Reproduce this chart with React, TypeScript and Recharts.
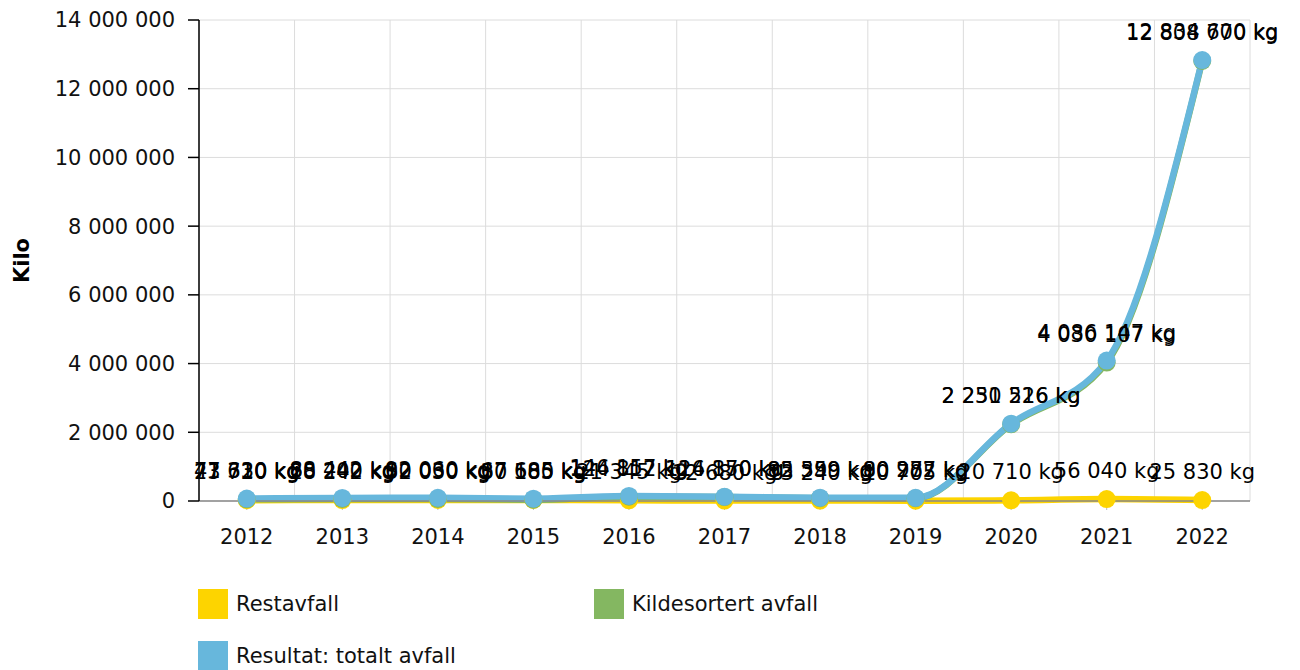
import React from 'react';
import { LineChart, Line, XAxis, YAxis, CartesianGrid, LabelList } from 'recharts';

const years = ['2012', '2013', '2014', '2015', '2016', '2017', '2018', '2019', '2020', '2021', '2022'];
const restavfall = [23720, 28242, 32030, 30100, 21345, 12680, 13240, 10705, 20710, 56040, 25830];
const kildesortert = [47610, 60200, 60030, 37585, 124812, 114170, 82359, 80277, 2230516, 4030107, 12808770];
const totalt = [71330, 88442, 92060, 67685, 146157, 126850, 95599, 90982, 2251226, 4086147, 12834600];
const yTicks = [0, 2000000, 4000000, 6000000, 8000000, 10000000, 12000000, 14000000];

const seriesNames = {
  rest: 'Restavfall',
  kilde: 'Kildesortert avfall',
  total: 'Resultat: totalt avfall',
};
const colors = { rest: '#fdd400', kilde: '#84b761', total: '#67b7dc' };

const data = years.map((y, i) => ({
  year: y,
  rest: restavfall[i],
  kilde: kildesortert[i],
  total: totalt[i],
}));

const FONT = '"DejaVu Sans", Verdana, sans-serif';
const fmt = (v: number) => String(Math.round(v)).replace(/\B(?=(\d{3})+(?!\d))/g, ' ');
const fmtKg = (v: any) => `${fmt(Number(v))} kg`;

const legendItems = [
  { key: 'rest', left: 198, top: 589 },
  { key: 'kilde', left: 594, top: 589 },
  { key: 'total', left: 198, top: 641 },
] as const;

export default function App() {
  return (
    <div style={{ position: 'absolute', left: 0, top: 0, width: 1300, height: 670, fontFamily: FONT, background: '#fff' }}>
      <LineChart
        width={1300}
        height={670}
        data={data}
        margin={{ top: 20, right: 50, left: 0, bottom: 109 }}
        style={{ fontFamily: FONT }}
      >
        <CartesianGrid
          stroke="#dcdcdc"
          strokeWidth={1}
          verticalCoordinatesGenerator={(p: any) => {
            const off = p.offset;
            const n = years.length;
            const arr: number[] = [];
            for (let i = 0; i <= n; i++) arr.push(off.left + (i * off.width) / n);
            return arr;
          }}
        />
        <XAxis
          dataKey="year"
          scale="band"
          stroke="#888"
          tickSize={9}
          tickMargin={19}
          height={60}
          tick={{ fill: '#111', fontSize: 21, fontFamily: FONT }}
          tickLine={{ stroke: '#bbb' }}
          axisLine={{ stroke: '#888', strokeWidth: 1.5 }}
        />
        <YAxis
          width={199}
          domain={[0, 14000000]}
          ticks={yTicks}
          tickFormatter={fmt}
          tickSize={11}
          tickMargin={13}
          tick={{ fill: '#111', fontSize: 21, fontFamily: FONT }}
          axisLine={{ stroke: '#000', strokeWidth: 1.5 }}
          tickLine={{ stroke: '#000', strokeWidth: 1.5 }}
          label={{
            content: (props: any) => {
              const vb = props.viewBox || { y: 20, height: 481 };
              const cy = vb.y + vb.height / 2;
              return (
                <text
                  x={22}
                  y={cy}
                  transform={`rotate(-90 22 ${cy})`}
                  textAnchor="middle"
                  dominantBaseline="central"
                  fontSize={21}
                  fontWeight="bold"
                  fontFamily={FONT}
                  fill="#000"
                >
                  Kilo
                </text>
              );
            },
          }}
        />
        <Line
          dataKey="rest"
          name={seriesNames.rest}
          type="monotone"
          stroke={colors.rest}
          strokeWidth={6.5}
          dot={{ r: 9, fill: colors.rest, stroke: 'none' }}
          activeDot={false}
          isAnimationActive={false}
        >
          <LabelList dataKey="rest" position="top" offset={21} formatter={fmtKg} fill="#000" fontSize={21} fontFamily={FONT} />
        </Line>
        <Line
          dataKey="kilde"
          name={seriesNames.kilde}
          type="monotone"
          stroke={colors.kilde}
          strokeWidth={6.5}
          dot={{ r: 9, fill: colors.kilde, stroke: 'none' }}
          activeDot={false}
          isAnimationActive={false}
        >
          <LabelList dataKey="kilde" position="top" offset={21} formatter={fmtKg} fill="#000" fontSize={21} fontFamily={FONT} />
        </Line>
        <Line
          dataKey="total"
          name={seriesNames.total}
          type="monotone"
          stroke={colors.total}
          strokeWidth={6.5}
          dot={{ r: 9, fill: colors.total, stroke: 'none' }}
          activeDot={false}
          isAnimationActive={false}
        >
          <LabelList dataKey="total" position="top" offset={21} formatter={fmtKg} fill="#000" fontSize={21} fontFamily={FONT} />
        </Line>
      </LineChart>
      {legendItems.map((it) => (
        <div key={it.key} style={{ position: 'absolute', left: it.left, top: it.top, height: 30, display: 'flex', alignItems: 'center' }}>
          <div style={{ width: 30, height: 30, background: colors[it.key] }} />
          <span style={{ marginLeft: 8, fontSize: 21, color: '#111', fontFamily: FONT, whiteSpace: 'nowrap' }}>
            {seriesNames[it.key]}
          </span>
        </div>
      ))}
    </div>
  );
}
